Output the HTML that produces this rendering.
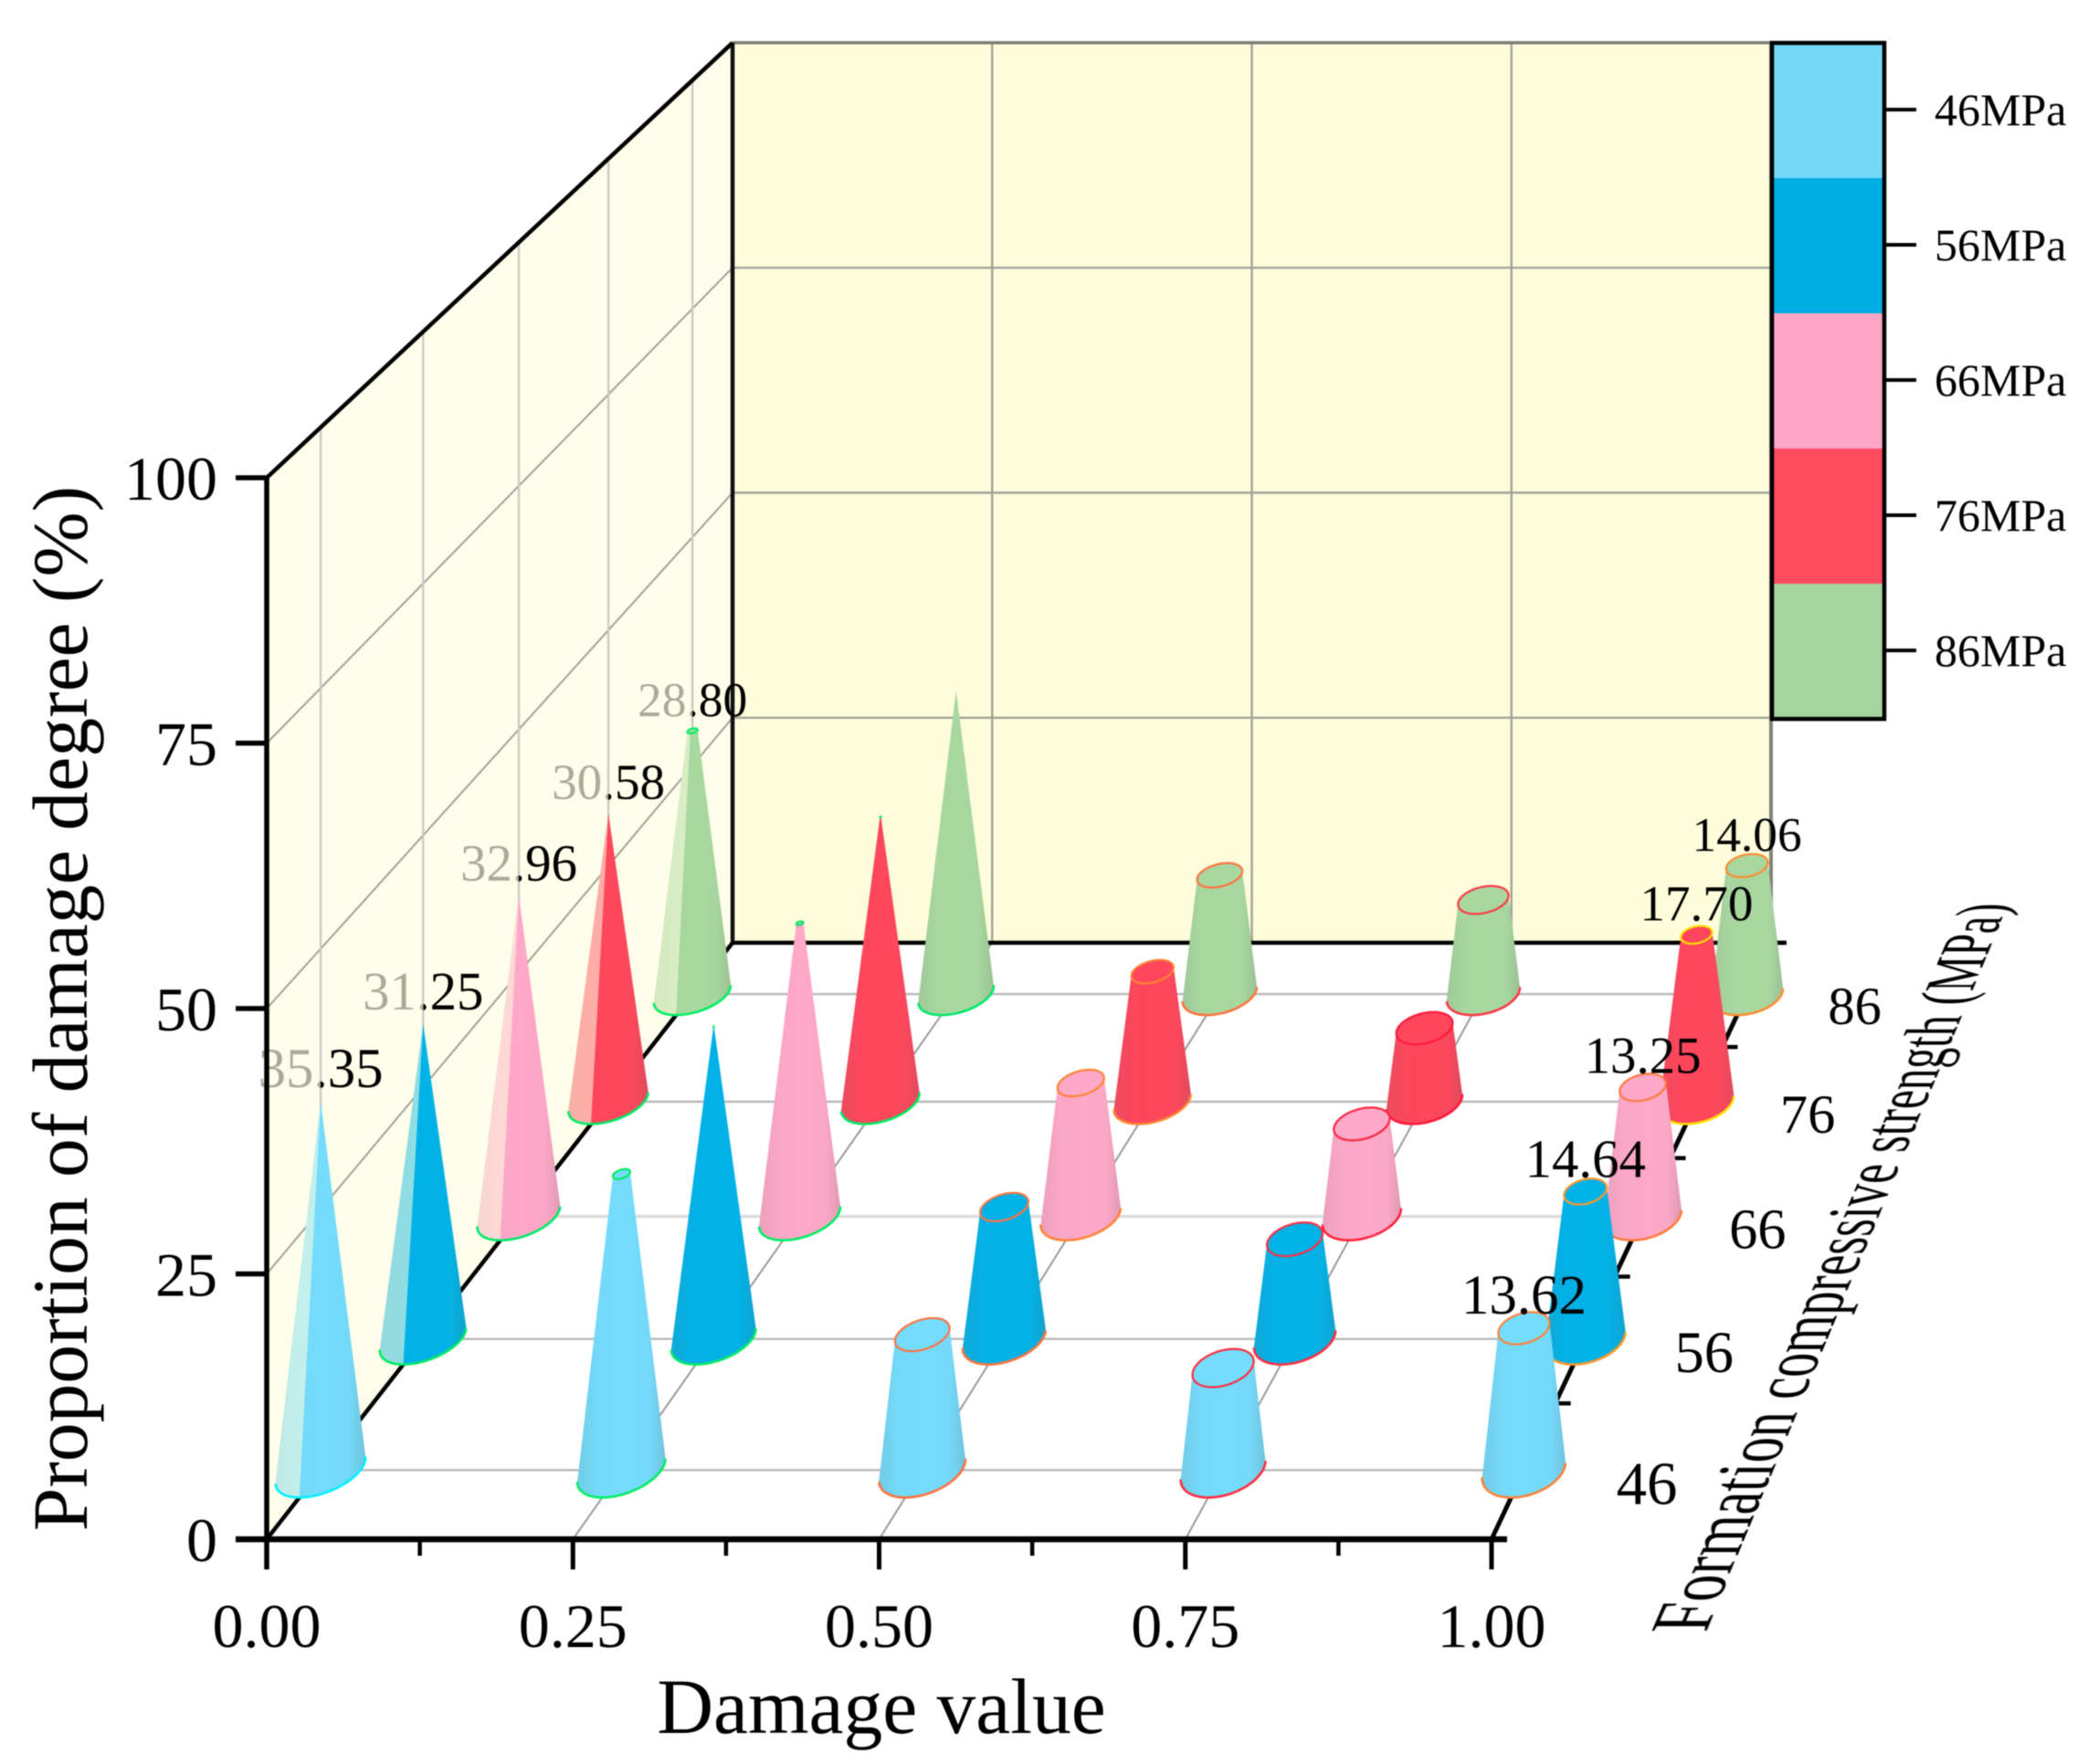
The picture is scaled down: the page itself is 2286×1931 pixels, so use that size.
<!DOCTYPE html>
<html lang="en">
<head>
<meta charset="utf-8">
<title>Proportion of damage degree</title>
<style>
html,body{margin:0;padding:0;background:#fff;}
#stage{position:relative;width:2286px;height:1931px;overflow:hidden;background:#fff;filter:blur(0.5px);}
#chart{position:absolute;left:0;top:0;}
text{font-family:"Liberation Serif",serif;fill:#000;}
#depth-title{position:absolute;left:0;top:0;transform-origin:0 0;white-space:nowrap;font-family:"Liberation Serif",serif;font-size:100px;line-height:100px;color:#000;}
</style>
</head>
<body>
<div id="stage">
<svg id="chart" xmlns="http://www.w3.org/2000/svg" width="2286" height="1931" viewBox="0 0 2286 1931">
  <defs id="defs"></defs>
  <g id="walls"></g>
  <g id="grid"></g>
  <g id="edges"></g>
  <g id="cones"></g>
  <g id="labels"></g>
  <g id="axes"></g>
  <g id="legend"></g>
  <text x="95" y="1104" font-size="85.5" text-anchor="middle" transform="rotate(-90 95 1104)">Proportion of damage degree (%)</text>
  <text x="965" y="1897" font-size="85.5" text-anchor="middle">Damage value</text>
</svg>
<div id="depth-title">Formation compressive strength (MPa)</div>
</div>
<script>
// ---------- chart data ----------
const damageValues = [0, 0.25, 0.5, 0.75, 1];
const strengthCategories = ['46', '56', '66', '76', '86'];
const legendLabels = ['46MPa', '56MPa', '66MPa', '76MPa', '86MPa'];
const seriesColors = ['#74dcfc', '#00b2e8', '#ffa8c8', '#ff465c', '#a8d8a0'];
const values46 = [35.35, 28.4, 13.0, 9.8, 13.62];
const values56 = [31.25, 31.0, 13.1, 9.9, 14.64];
const values66 = [32.96, 30.1, 13.7, 9.5, 13.25];
const values76 = [30.58, 30.2, 13.8, 7.8, 17.70];
const values86 = [28.80, 33.2, 13.0, 10.3, 14.06];
const xTickLabels = ['0.00', '0.25', '0.50', '0.75', '1.00'];
const xMinorTicks = [0.125, 0.375, 0.625, 0.875];
const yTickLabels = ['0', '25', '50', '75', '100'];
const yTickValues = [0, 25, 50, 75, 100];
const colorScaleValues = [9, 12, 14, 17.7, 28, 33.6, 35.35];
const colorScaleColors = ['#ff1a3c', '#ff5c50', '#ff8a30', '#ffe000', '#00f060', '#00e868', '#00f0ff'];

const seriesValues = [values46, values56, values66, values76, values86];

// ---------- projection ----------
const NS = 'http://www.w3.org/2000/svg';
const PERSP = 0.1795;
function depthPos(i) { return 0.1 + 0.2 * i; }
function sc(v) { return 1 / (1 + PERSP * v); }
function X(u, v) { return (292 + 1341 * u + 654 * v) * sc(v); }
function Y(v, w) { return (1685 - 1162 * w - 467.8 * v) * sc(v); }
function P(u, v, w) { return [X(u, v), Y(v, w)]; }

function el(tag, attrs, parent) {
  const e = document.createElementNS(NS, tag);
  for (const k in attrs) e.setAttribute(k, attrs[k]);
  parent.appendChild(e);
  return e;
}
function pts(a) { return a.map(p => p[0].toFixed(2) + ',' + p[1].toFixed(2)).join(' '); }
function hull(points) {
  const p = points.slice().sort((a, b) => a[0] - b[0] || a[1] - b[1]);
  const cross = (o, a, b) => (a[0] - o[0]) * (b[1] - o[1]) - (a[1] - o[1]) * (b[0] - o[0]);
  const lo = [], up = [];
  for (const q of p) { while (lo.length > 1 && cross(lo[lo.length - 2], lo[lo.length - 1], q) <= 0) lo.pop(); lo.push(q); }
  for (let i = p.length - 1; i >= 0; i--) { const q = p[i]; while (up.length > 1 && cross(up[up.length - 2], up[up.length - 1], q) <= 0) up.pop(); up.push(q); }
  lo.pop(); up.pop();
  return lo.concat(up);
}
function hex(c) { return [parseInt(c.slice(1, 3), 16), parseInt(c.slice(3, 5), 16), parseInt(c.slice(5, 7), 16)]; }
function mix(a, b, t) {
  const A = hex(a), B = hex(b);
  return 'rgb(' + A.map((x, i) => Math.round(x + (B[i] - x) * t)).join(',') + ')';
}
function valueColor(val) {
  const s = colorScaleValues, c = colorScaleColors;
  if (val <= s[0]) return c[0];
  for (let i = 1; i < s.length; i++) {
    if (val <= s[i]) return mix(c[i - 1], c[i], (val - s[i - 1]) / (s[i] - s[i - 1]));
  }
  return c[c.length - 1];
}

const defs = document.getElementById('defs');
const walls = document.getElementById('walls');
const grid = document.getElementById('grid');
const edges = document.getElementById('edges');
const conesG = document.getElementById('cones');
const labelsG = document.getElementById('labels');
const axesG = document.getElementById('axes');
const legendG = document.getElementById('legend');

// ---------- walls ----------
const leftWall = el('polygon', { points: pts([P(0, 0, 0), P(0, 0, 1), P(0, 1, 1), P(0, 1, 0)]), fill: '#fffeea' }, walls);


const backWall = el('polygon', { points: pts([P(0, 1, 0), P(0, 1, 1), P(1, 1, 1), P(1, 1, 0)]), fill: '#fefddb' }, walls);



// ---------- grid ----------
function line(a, b, stroke, width, parent) {
  return el('line', { x1: a[0], y1: a[1], x2: b[0], y2: b[1], stroke: stroke, 'stroke-width': width, 'stroke-linecap': 'butt' }, parent);
}
yTickValues.slice(1, 4).forEach(z => {
  const w = z / 100;
  const g1 = line(P(0, 0, w), P(0, 1, w), '#a2a29a', 2, grid);
  
  
  const g2 = line(P(0, 1, w), P(1, 1, w), '#a2a29a', 2.4, grid);
  
  
});
strengthCategories.forEach((c, i) => {
  const v = depthPos(i);
  const g1 = line(P(0, v, 0), P(0, v, 1), '#cbcbc6', 2.4, grid);
  
  
  const g2 = line(P(0, v, 0), P(1, v, 0), i === 2 ? '#dcdcdc' : '#b8b8b8', i === 2 ? 3.5 : 2.4, grid);
  
  
});
damageValues.slice(1, 4).forEach(u => {
  const g1 = line(P(u, 0, 0), P(u, 1, 0), '#9a9a9a', 2, grid);
  
  
  const g2 = line(P(u, 1, 0), P(u, 1, 1), '#a2a29a', 2.4, grid);
  
  
});

// ---------- wall / floor edges ----------
const eTop = line(P(0, 1, 1), P(1, 1, 1), '#808078', 3.5, edges);


const eRight = line(P(1, 1, 1), P(1, 1, 0), '#808078', 4, edges);


const eBack = line(P(0, 1, 1), P(0, 1, 0), '#111', 4.5, edges);


const eLeftTop = line(P(0, 0, 1), P(0, 1, 1), '#000', 4.5, edges);


const eFloorBack = line(P(0, 1, 0), [X(1, 1) + 16, Y(1, 0)], '#000', 4.5, edges);


const eFloorLeft = line(P(0, 0, 0), P(0, 1, 0), '#000', 4.5, edges);


const eFloorRight = line(P(1, 0, 0), P(1, 1, 0), '#000', 5, edges);


[0, 0.2, 0.4, 0.6, 0.8, 1].forEach(v => {
  const p = P(1, v, 0);
  const t = line(p, [p[0] + 17, p[1]], '#000', 4.5, edges);
  
  
});
strengthCategories.forEach((c, i) => {
  const p = P(1, depthPos(i), 0);
  const t = line(p, [p[0] + 32, p[1]], '#000', 4.5, edges);
  
  
});

// ---------- cone gradients ----------
seriesColors.forEach((c, i) => {
  const g = el('linearGradient', { id: 'cone-grad-' + i, x1: 0, y1: 0, x2: 1, y2: 0 }, defs);
  el('stop', { offset: 0, 'stop-color': mix(c, '#707070', 0.15) }, g);
  el('stop', { offset: 0.25, 'stop-color': mix(c, '#808080', 0.02) }, g);
  el('stop', { offset: 0.55, 'stop-color': c }, g);
  el('stop', { offset: 0.82, 'stop-color': mix(c, '#808080', 0.03) }, g);
  el('stop', { offset: 1, 'stop-color': mix(c, '#606060', 0.2) }, g);
});

// ---------- cones ----------
const RU = 0.033, RV = 0.04, STEPS = 72;
function ring(u, v, w, k) {
  const out = [];
  for (let t = 0; t < STEPS; t++) {
    const th = t / STEPS * 2 * Math.PI;
    out.push(P(u + RU * k * Math.cos(th), v + RV * k * Math.sin(th), w));
  }
  return out;
}
function drawCone(col, row) {
  const val = seriesValues[row][col];
  const rowMax = Math.max.apply(null, seriesValues[row]);
  const u = damageValues[col], v = depthPos(row), w = val / 100;
  const k = 1 - val / rowMax;
  const base = ring(u, v, 0, 1), top = ring(u, v, w, k);
  const g = el('g', {}, conesG);
  
  
  el('polygon', { points: pts(hull(base.concat(top))), fill: 'url(#cone-grad-' + row + ')' }, g);
  // part of the cone that sits behind the left wall
  if (u === 0) {
    const a = STEPS / 2, b = STEPS * 3 / 4;
    const veil = hull(base.slice(a, b + 1).concat(top.slice(a, b + 1)));
    el('polygon', { points: pts(veil), fill: '#ffffe0', 'fill-opacity': 0.56 }, g);
  }
  const stroke = valueColor(val);
  // front base arc
  let idx = 0;
  base.forEach((p, i) => { if (p[0] > base[idx][0]) idx = i; });
  const arc = [];
  for (let j = 0; j <= STEPS / 2; j++) arc.push(base[(idx - j + STEPS) % STEPS]);
  el('polyline', { points: pts(arc), fill: 'none', stroke: stroke, 'stroke-width': 2.6 }, g);
  if (k > 0.005) {
    el('polygon', { points: pts(top), fill: seriesColors[row], stroke: stroke, 'stroke-width': 2.2 }, g);
  }
}
for (let r = strengthCategories.length - 1; r >= 0; r--) {
  for (let c = 0; c < damageValues.length; c++) drawCone(c, r);
}

// ---------- value labels (first and last damage column only) ----------
[0, 4].forEach(col => {
  seriesValues.forEach((vals, row) => {
    const v = depthPos(row), val = vals[col], cx = X(damageValues[col], v);
    const t = el('text', { x: cx, y: Y(v, val / 100) - 16, 'font-size': (62 * sc(v)).toFixed(1), 'text-anchor': 'middle' }, labelsG);
    t.textContent = val.toFixed(2);
    
    
    if (col === 0) {
      const id = 'label-fade-' + row;
      const g = el('linearGradient', { id: id, gradientUnits: 'userSpaceOnUse', x1: cx - 100, y1: 0, x2: cx + 100, y2: 0 }, defs);
      el('stop', { offset: 0.5, 'stop-color': '#aca99a' }, g);
      el('stop', { offset: 0.5, 'stop-color': '#000' }, g);
      t.setAttribute('style', 'fill:url(#' + id + ')');
    }
  });
});

// ---------- axes ----------
const yAxis = line(P(0, 0, 1), [292, 1718], '#000', 5.5, axesG);


const xAxis = line([258, 1685], [1650, 1685], '#000', 6.5, axesG);


yTickValues.forEach((z, i) => {
  const y = Y(0, z / 100);
  const t = line([258, y], [292, y], '#000', 5.5, axesG);
  
  
  const l = el('text', { x: 238, y: y + 24, 'font-size': 68, 'text-anchor': 'end' }, axesG);
  l.textContent = yTickLabels[i];
  
  
});
damageValues.forEach((u, i) => {
  const x = X(u, 0);
  const t = line([x, 1685], [x, 1718], '#000', 5, axesG);
  
  
  const l = el('text', { x: x, y: 1803, 'font-size': 68, 'text-anchor': 'middle' }, axesG);
  l.textContent = xTickLabels[i];
  
  
});
xMinorTicks.forEach(u => {
  const x = X(u, 0);
  const t = line([x, 1685], [x, 1703], '#000', 4.5, axesG);
  
  
});
strengthCategories.forEach((c, i) => {
  const v = depthPos(i), s = sc(v);
  const l = el('text', { x: X(1, v) + 137 * s, y: Y(v, 0) + 38 * s, 'font-size': (68 * s).toFixed(1), 'text-anchor': 'middle' }, axesG);
  l.textContent = c;
  
  
});

// ---------- legend ----------
const LEG_X = 1940, LEG_W = 123, LEG_Y = 47, LEG_H = 148;
legendLabels.forEach((name, i) => {
  const y = LEG_Y + i * LEG_H;
  const r = el('rect', { x: LEG_X, y: y, width: LEG_W, height: LEG_H, fill: ['#74d8f6', '#00aee6', '#ffa6c6', '#ff4a5f', '#a6d49e'][i] }, legendG);
  
  
  const t = line([LEG_X + LEG_W, y + LEG_H / 2 - 1], [2098, y + LEG_H / 2 - 1], '#000', 4, legendG);
  
  
  const l = el('text', { x: 2118, y: y + LEG_H / 2 + 16, 'font-size': 50 }, legendG);
  l.textContent = name;
  
  
});
const frame = el('rect', { x: LEG_X, y: LEG_Y, width: LEG_W, height: LEG_H * 5, fill: 'none', stroke: '#000', 'stroke-width': 4.5 }, legendG);



// ---------- perspective depth-axis title ----------
(function () {
  const title = document.getElementById('depth-title');
  const W = 1569, yb = 83.75, yt = yb - 65.5, HH = yb - yt;
  const b0 = [1868, 1787], b1 = [2199, 989], L0 = 60, L1 = 50;
  const q = [[b0[0] - L0, b0[1]], [b1[0] - L1, b1[1]], b1, b0];
  const dx1 = q[1][0] - q[2][0], dx2 = q[3][0] - q[2][0], sx = q[0][0] - q[1][0] + q[2][0] - q[3][0];
  const dy1 = q[1][1] - q[2][1], dy2 = q[3][1] - q[2][1], sy = q[0][1] - q[1][1] + q[2][1] - q[3][1];
  const den = dx1 * dy2 - dx2 * dy1;
  const g = (sx * dy2 - dx2 * sy) / den, h = (dx1 * sy - sx * dy1) / den;
  const a = q[1][0] - q[0][0] + g * q[1][0], b = q[3][0] - q[0][0] + h * q[3][0], c = q[0][0];
  const d = q[1][1] - q[0][1] + g * q[1][1], e = q[3][1] - q[0][1] + h * q[3][1], f = q[0][1];
  const m = [a / W, d / W, 0, g / W,
             b / HH, e / HH, 0, h / HH,
             0, 0, 1, 0,
             c - b * yt / HH, f - e * yt / HH, 0, 1 - h * yt / HH];
  title.style.transform = 'matrix3d(' + m.join(',') + ')';
})();
</script>
</body>
</html>
